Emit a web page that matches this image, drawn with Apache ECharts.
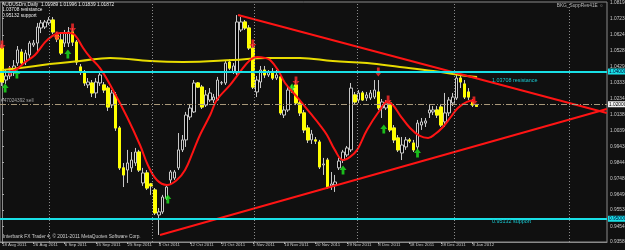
<!DOCTYPE html>
<html>
<head>
<meta charset="utf-8">
<script src="https://cdn.jsdelivr.net/npm/echarts@6.0.0/dist/echarts.min.js"></script>
<style>
  html, body { margin: 0; padding: 0; background: #101010; }
  #chart { width: 625px; height: 250px; }
</style>
</head>
<body>
<div id="chart"></div>
<script>
// AUDUSDm daily candles, one per bar index: [open, close, low, high]
const candles = [
  [1.0544,1.0336,1.0312,1.0568],[1.0348,1.0373,1.0324,1.0409],[1.0373,1.0397,1.0354,1.0434],
  [1.0397,1.0434,1.0373,1.0470],[1.0452,1.0532,1.0434,1.0556],[1.0519,1.0452,1.0440,1.0538],
  [1.0458,1.0513,1.0440,1.0532],[1.0501,1.0574,1.0483,1.0587],[1.0562,1.0574,1.0550,1.0593],
  [1.0574,1.0672,1.0525,1.0697],[1.0666,1.0697,1.0635,1.0715],[1.0672,1.0703,1.0660,1.0715],
  [1.0697,1.0715,1.0684,1.0733],[1.0715,1.0642,1.0629,1.0733],[1.0623,1.0599,1.0580,1.0642],
  [1.0593,1.0513,1.0501,1.0635],[1.0574,1.0635,1.0550,1.0654],[1.0574,1.0642,1.0550,1.0672],
  [1.0642,1.0580,1.0556,1.0666],[1.0580,1.0458,1.0440,1.0593],[1.0428,1.0397,1.0379,1.0446],
  [1.0397,1.0330,1.0312,1.0409],[1.0318,1.0336,1.0299,1.0360],[1.0330,1.0269,1.0244,1.0348],
  [1.0269,1.0336,1.0238,1.0360],[1.0330,1.0379,1.0312,1.0397],[1.0318,1.0287,1.0269,1.0336],
  [1.0299,1.0183,1.0159,1.0312],[1.0195,1.0269,1.0177,1.0287],[1.0257,1.0055,1.0037,1.0275],
  [1.0055,0.9811,0.9798,1.0067],[0.9811,0.9768,0.9694,0.9841],[0.9798,0.9841,0.9719,0.9921],
  [0.9811,0.9859,0.9786,0.9908],[0.9841,0.9908,0.9823,0.9933],[0.9908,0.9798,0.9786,0.9921],
  [0.9719,0.9780,0.9701,0.9811],[0.9780,0.9688,0.9676,0.9798],[0.9713,0.9701,0.9646,0.9719],
  [0.9676,0.9536,0.9523,0.9688],[0.9523,0.9542,0.9401,0.9566],[0.9542,0.9633,0.9530,0.9646],
  [0.9627,0.9694,0.9615,0.9707],[0.9737,0.9786,0.9707,0.9798],[0.9749,0.9786,0.9737,0.9798],
  [0.9811,0.9921,0.9798,1.0024],[0.9921,0.9982,0.9908,1.0012],[0.9982,1.0134,0.9939,1.0153],
  [1.0122,1.0177,1.0104,1.0202],[1.0153,1.0330,1.0147,1.0348],[1.0330,1.0305,1.0299,1.0336],
  [1.0305,1.0183,1.0171,1.0318],[1.0195,1.0257,1.0183,1.0287],[1.0226,1.0269,1.0214,1.0299],
  [1.0226,1.0244,1.0208,1.0263],[1.0226,1.0348,1.0220,1.0367],[1.0330,1.0332,1.0318,1.0342],
  [1.0330,1.0452,1.0318,1.0470],[1.0458,1.0421,1.0409,1.0476],[1.0397,1.0434,1.0385,1.0452],
  [1.0391,1.0703,1.0379,1.0745],[1.0654,1.0703,1.0642,1.0733],[1.0703,1.0666,1.0654,1.0715],
  [1.0666,1.0544,1.0532,1.0684],[1.0544,1.0305,1.0293,1.0568],[1.0275,1.0348,1.0244,1.0373],
  [1.0336,1.0409,1.0299,1.0434],[1.0409,1.0379,1.0360,1.0434],[1.0379,1.0397,1.0367,1.0409],
  [1.0397,1.0360,1.0348,1.0421],[1.0360,1.0379,1.0348,1.0409],[1.0367,1.0147,1.0134,1.0379],
  [1.0134,1.0165,1.0116,1.0189],[1.0165,1.0287,1.0153,1.0312],[1.0287,1.0299,1.0269,1.0318],
  [1.0318,1.0208,1.0195,1.0348],[1.0208,1.0147,1.0128,1.0226],[1.0147,1.0043,1.0024,1.0165],
  [1.0055,0.9982,0.9963,1.0073],[0.9982,1.0018,0.9957,1.0043],[0.9982,0.9975,0.9957,1.0000],
  [0.9969,0.9817,0.9804,0.9982],[0.9829,0.9835,0.9768,0.9872],[0.9859,0.9694,0.9682,0.9872],
  [0.9701,0.9713,0.9676,0.9786],[0.9707,0.9725,0.9664,0.9768],[0.9811,0.9853,0.9798,0.9872],
  [0.9859,0.9908,0.9841,0.9921],[0.9890,0.9933,0.9878,0.9945],[0.9921,1.0299,0.9908,1.0330],
  [1.0257,1.0214,1.0202,1.0275],[1.0226,1.0269,1.0208,1.0287],[1.0269,1.0226,1.0220,1.0281],
  [1.0238,1.0257,1.0220,1.0275],[1.0238,1.0269,1.0226,1.0287],[1.0244,1.0287,1.0232,1.0348],
  [1.0275,1.0177,1.0165,1.0348],[1.0177,1.0214,1.0116,1.0232],[1.0177,1.0208,1.0165,1.0226],
  [1.0208,1.0043,1.0030,1.0220],[1.0055,0.9982,0.9963,1.0073],[0.9994,0.9921,0.9908,1.0012],
  [0.9902,0.9951,0.9859,1.0000],[0.9939,0.9982,0.9921,1.0000],[0.9982,0.9975,0.9963,0.9994],
  [0.9963,0.9921,0.9908,0.9982],[0.9939,1.0085,0.9921,1.0104],[1.0073,1.0092,1.0043,1.0116],
  [1.0085,1.0098,1.0061,1.0116],[1.0147,1.0165,1.0116,1.0195],[1.0153,1.0165,1.0134,1.0189],
  [1.0165,1.0134,1.0116,1.0189],[1.0183,1.0073,1.0061,1.0202],[1.0092,1.0147,1.0061,1.0269],
  [1.0147,1.0226,1.0128,1.0244],[1.0208,1.0244,1.0189,1.0269],[1.0238,1.0360,1.0226,1.0391],
  [1.0360,1.0336,1.0299,1.0385],[1.0324,1.0244,1.0232,1.0348],[1.0275,1.0244,1.0226,1.0299],
  [1.0214,1.0195,1.0183,1.0232],[1.01989,1.01872,1.01839,1.01996]
];

// fast MA (red) and slow MA (yellow) as [bar index, value]
const redMA = [
  [0.8,1.0397],[3.3,1.0409],[5.9,1.0458],[8.4,1.0501],[11,1.0580],[12.8,1.0617],[14.8,1.0635],
  [17.3,1.0635],[18.6,1.0623],[20.7,1.0544],[22.4,1.0489],[25,1.0421],[28.3,1.0287],[31.9,1.0122],
  [35.2,0.9951],[37.2,0.9829],[39.5,0.9737],[42.1,0.9707],[44.6,0.9737],[46.7,0.9798],[48.7,0.9908],
  [50.5,1.0012],[53.1,1.0134],[54.8,1.0226],[58.2,1.0318],[60.7,1.0397],[63.3,1.0470],[65.1,1.0489],
  [67.1,1.0483],[68.4,1.0470],[70.4,1.0409],[72.2,1.0330],[75.3,1.0244],[78.6,1.0147],[81.1,1.0073],
  [82.9,1.0012],[84.9,0.9921],[87,0.9859],[88.8,0.9878],[90.6,0.9921],[93.1,1.0043],[96.4,1.0165],
  [98.2,1.0214],[99.7,1.0195],[101.5,1.0134],[104.1,1.0055],[106.6,1.0006],[108.7,0.9994],
  [110.5,1.0018],[112.5,1.0061],[114.3,1.0116],[116.3,1.0177],[118.6,1.0214],[120.7,1.0226]
];
const yellowMA = [
  [0,1.0409],[4.6,1.0421],[12.2,1.0446],[19.9,1.0464],[27.6,1.0483],[37.8,1.0464],[46.2,1.0458],
  [58.9,1.0470],[67.6,1.0483],[76,1.0483],[84.4,1.0464],[93.1,1.0452],[101.5,1.0428],[110,1.0403],
  [118.6,1.0373],[121.2,1.0367]
];

// signal arrows [bar index, price]
const sellArrows = [[0,1.0562],[2,1.0400],[14,1.0617],[18,1.0666],[64,1.0568],[75,1.0342],[96,1.0397],[98.5,1.0226],[120.4,1.0220]];
const buyArrows = [[0.8,1.0299],[3.8,1.0385],[16.8,1.0507],[42.3,0.9621],[74,1.0299],[87,0.9798],[97.4,1.0049],[106,0.9902]];

// triangle trend lines
const trendUpper = [[60.2,1.0745],[154.3,1.0147]];
const trendLower = [[40.3,0.9401],[154.3,1.0171]];

const resistance = 1.03708;
const support = 0.95132;
const sellOrder = 1.0202;
const bid = 1.01872;
const levelTextIdx = 125;

// period separators (bar index of month start)
const monthLines = [12, 38.3, 64.3, 90.6, 115.3, 144.6];

const xLabelIdx = [0,8,16,24,32,40,48,56,64,72,80,88,96,104,112,120];
const xLabels = ['18 Aug 2011','26 Aug 2011','6 Sep 2011','15 Sep 2011','25 Sep 2011','4 Oct 2011',
  '12 Oct 2011','21 Oct 2011','1 Nov 2011','10 Nov 2011','20 Nov 2011','29 Nov 2011','8 Dec 2011',
  '18 Dec 2011','28 Dec 2011','8 Jan 2012'];
const yTicks = [1.0819,1.0723,1.0624,1.0528,1.0429,1.0333,1.0234,1.0138,1.0039,0.9943,0.9844,0.9748,
  0.9649,0.9553,0.9454,0.9358];

const FONT = 'Liberation Sans';
const FS = 4.8;
const UP = 'path://M5,0 L10,5 L7,5 L7,10 L3,10 L3,5 L0,5 Z';
const DOWN = 'path://M5,10 L10,5 L7,5 L7,0 L3,0 L3,5 L0,5 Z';

const chart = echarts.init(document.getElementById('chart'));

const full = candles.map((c, i) => [i, c[0], c[1], c[2], c[3]]);
const bodies = candles.map((c, i) => [i, c[0], c[1], Math.min(c[0], c[1]), Math.max(c[0], c[1])]);

const boxLabel = (bg, fg) => ({
  show: true, position: 'end', distance: 1,
  formatter: p => p.value.toFixed(5),
  backgroundColor: bg, color: fg, fontSize: FS, fontFamily: FONT, padding: [1, 3, 0, 1]
});

const option = {
  animation: false,
  backgroundColor: '#101010',
  grid: {
    left: 0, right: 18, top: 2, bottom: 8,
    show: true, borderColor: '#8a8a8a', borderWidth: 1, backgroundColor: '#101010',
    outerBoundsMode: 'none'
  },
  xAxis: {
    type: 'value', min: -0.51, max: 154.34,
    splitLine: { show: false },
    axisLine: { show: true, lineStyle: { color: '#8a8a8a' } },
    axisTick: { show: true, length: 2, customValues: xLabelIdx, lineStyle: { color: '#aaa' } },
    axisLabel: {
      customValues: xLabelIdx, color: '#c8c8c8', fontSize: 4.4, fontFamily: FONT,
      margin: 1, align: 'left',
      formatter: v => xLabels[xLabelIdx.indexOf(Math.round(v))] || ''
    }
  },
  yAxis: {
    type: 'value', position: 'right', min: 0.9358, max: 1.0825, scale: true,
    splitLine: { show: false },
    axisLine: { show: true, lineStyle: { color: '#8a8a8a' } },
    axisTick: { show: true, length: 2, inside: false, customValues: yTicks, lineStyle: { color: '#aaa' } },
    axisLabel: {
      customValues: yTicks, color: '#c8c8c8', fontSize: FS, fontFamily: FONT, margin: 3,
      showMinLabel: true, showMaxLabel: true,
      formatter: v => v.toFixed(5)
    }
  },
  graphic: [
    {
      type: 'text', left: 2, top: 2, silent: true,
      style: {
        text: 'AUDUSDm,Daily  1.01989 1.01996 1.01839 1.01872\n1.03708 resistance\n0.95132 support',
        fill: '#ececec', font: FS + 'px ' + FONT, lineHeight: 5.4
      }
    },
    {
      type: 'text', right: 21, top: 3, silent: true,
      style: { text: 'BKG_SuppRes41E \u263A', fill: '#b8b8b8', font: FS + 'px ' + FONT }
    },
    {
      type: 'text', left: 3, top: 234, silent: true,
      style: {
        text: 'Interbank FX Trader 4, \u00A9 2001-2011 MetaQuotes Software Corp.',
        fill: '#d0d0d0', font: FS + 'px ' + FONT
      }
    }
  ],
  series: [
    {
      // separators
      type: 'line', data: [], silent: true,
      markLine: {
        symbol: 'none', silent: true, label: { show: false },
        lineStyle: { color: '#8c8c8c', type: [1, 2], width: 1 },
        data: monthLines.map(x => ({ xAxis: x }))
      }
    },
    {
      type: 'candlestick', data: full, barWidth: 3, encode: { x: 0, y: [1, 2, 3, 4] },
      itemStyle: { color: '#000', color0: '#ffff00', borderColor: '#c8c8c8', borderColor0: '#c8c8c8', borderWidth: 1 }
    },
    {
      type: 'candlestick', data: bodies, barWidth: 3, encode: { x: 0, y: [1, 2, 3, 4] },
      itemStyle: { color: 'rgba(0,0,0,0)', color0: '#ffff00', borderColor: 'rgba(0,0,0,0)', borderColor0: '#ffff00', borderWidth: 1 }
    },
    {
      type: 'line', data: yellowMA, smooth: 0.4, showSymbol: false,
      lineStyle: { color: '#e8dc00', width: 2 }
    },
    {
      type: 'line', data: redMA, smooth: 0.4, showSymbol: false,
      lineStyle: { color: '#ff1414', width: 2 }
    },
    {
      type: 'line', data: trendUpper, showSymbol: false,
      lineStyle: { color: '#ff1414', width: 2 }
    },
    {
      type: 'line', data: trendLower, showSymbol: false,
      lineStyle: { color: '#ff1414', width: 2 },
      markLine: {
        symbol: 'none', silent: true,
        data: [
          { yAxis: resistance, lineStyle: { color: '#19e0e6', width: 2, type: 'solid' }, label: boxLabel('#19e0e6', '#003') },
          { yAxis: support, lineStyle: { color: '#19e0e6', width: 2, type: 'solid' }, label: boxLabel('#19e0e6', '#003') },
          {
            yAxis: sellOrder, lineStyle: { color: '#a8987a', width: 1, type: [6, 2, 1, 2] },
            label: { show: true, position: 'insideStartTop', distance: 1, formatter: '#47024392 sell', color: '#a8a8a8', fontSize: FS, fontFamily: FONT }
          },
          { yAxis: bid, lineStyle: { color: 'rgba(0,0,0,0)', width: 0 }, label: boxLabel('#f0f0f0', '#000') }
        ]
      },
      markPoint: {
        symbol: 'circle', symbolSize: 0, silent: true,
        label: { show: true, position: [0, 2], align: 'left', color: '#19c8d0', fontSize: FS + 0.6, fontFamily: FONT },
        data: [
          { coord: [levelTextIdx, resistance], label: { formatter: resistance.toFixed(5) + ' resistance' } },
          { coord: [levelTextIdx, support], label: { formatter: support.toFixed(5) + ' support' } }
        ]
      }
    },
    {
      type: 'scatter', data: sellArrows, symbol: DOWN, symbolSize: [7, 9],
      itemStyle: { color: '#ff2a2a' }
    },
    {
      type: 'scatter', data: buyArrows, symbol: UP, symbolSize: [7, 9],
      itemStyle: { color: '#1ee61e' }
    }
  ]
};

chart.setOption(option);
</script>
</body>
</html>
